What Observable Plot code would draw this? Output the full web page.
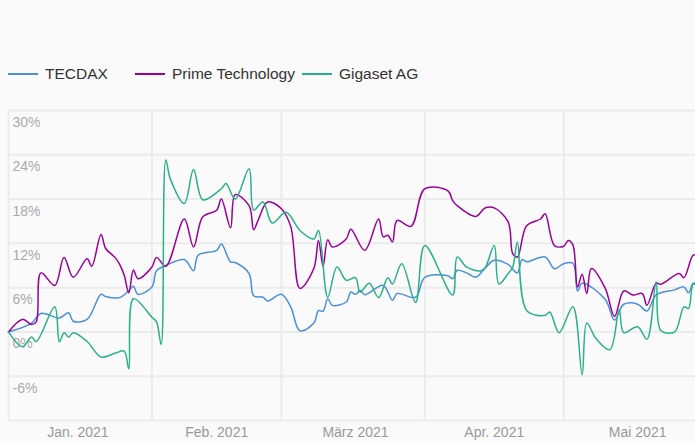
<!DOCTYPE html>
<html>
<head>
<meta charset="utf-8">
<script src="https://cdn.jsdelivr.net/npm/d3@7"></script>
<script src="https://cdn.jsdelivr.net/npm/@observablehq/plot@0.6"></script>
<style>
  html, body { margin: 0; padding: 0; background: #fafafa; }
  body { width: 695px; height: 443px; overflow: hidden; font-family: "Liberation Sans", Arial, Helvetica, sans-serif; }
  #legend { margin-top: 60px; height: 28px; display: flex; align-items: center; padding-left: 8px; font-size: 15.5px; color: #333; }
  .item { display: flex; align-items: center; flex: none; white-space: nowrap; }
  .sw { width: 30px; height: 2px; margin-right: 7px; }
  #chart svg { display: block; }
</style>
</head>
<body>
<div id="legend"></div>
<div id="chart"></div>
<script>
const seriesNames = ["TECDAX", "Prime Technology", "Gigaset AG"];
const seriesColors = ["#4a90d9", "#990099", "#2ab08a"];

const tecdaxDates = ["2021-01-01","2021-01-06","2021-01-08","2021-01-12","2021-01-14","2021-01-15","2021-01-18","2021-01-21","2021-01-22","2021-01-25","2021-01-27","2021-01-28","2021-01-29","2021-02-01","2021-02-02","2021-02-04","2021-02-08","2021-02-10","2021-02-11","2021-02-15","2021-02-16","2021-02-18","2021-02-19","2021-02-22","2021-02-23","2021-02-25","2021-02-26","2021-03-01","2021-03-03","2021-03-05","2021-03-08","2021-03-09","2021-03-10","2021-03-11","2021-03-12","2021-03-15","2021-03-16","2021-03-17","2021-03-18","2021-03-19","2021-03-23","2021-03-25","2021-03-26","2021-03-30","2021-04-01","2021-04-06","2021-04-07","2021-04-08","2021-04-10","2021-04-12","2021-04-14","2021-04-16","2021-04-19","2021-04-21","2021-04-22","2021-04-23","2021-04-27","2021-04-29","2021-05-01","2021-05-03","2021-05-04","2021-05-05","2021-05-10","2021-05-12","2021-05-14","2021-05-17","2021-05-19","2021-05-21","2021-05-25","2021-05-27","2021-05-28","2021-05-29","2021-05-30"];
const tecdaxValues = [0,1.2,2.5,1.9,2.6,1.45,1.7,5.1,4.8,4.65,5.6,6.2,5.1,6.1,8.3,9.0,9.8,8.3,10.4,11.05,11.9,9.5,9.4,7.9,4.9,4.7,4.2,5.1,3.4,0.15,1.2,2.9,2.8,4.5,3.6,4.05,5.4,5.1,5.6,5.05,6.3,4.3,5.2,4.7,7.4,7.6,7.2,8.35,8.0,7.4,8.65,9.7,9.15,8.0,9.8,9.5,10.15,8.55,9.25,9.3,5.55,6.6,4.4,1.6,3.75,3.75,2.85,5.0,5.7,6.1,5.3,6.6,6.45];

const primeDates = ["2021-01-01","2021-01-04","2021-01-06","2021-01-07","2021-01-08","2021-01-11","2021-01-13","2021-01-15","2021-01-18","2021-01-19","2021-01-21","2021-01-22","2021-01-24","2021-01-25","2021-01-26","2021-01-27","2021-01-28","2021-01-29","2021-02-01","2021-02-02","2021-02-04","2021-02-08","2021-02-10","2021-02-12","2021-02-15","2021-02-16","2021-02-18","2021-02-19","2021-02-22","2021-02-23","2021-02-24","2021-02-26","2021-03-01","2021-03-03","2021-03-05","2021-03-08","2021-03-09","2021-03-10","2021-03-11","2021-03-12","2021-03-15","2021-03-16","2021-03-19","2021-03-22","2021-03-23","2021-03-24","2021-03-25","2021-03-26","2021-03-29","2021-04-01","2021-04-06","2021-04-07","2021-04-08","2021-04-12","2021-04-14","2021-04-16","2021-04-19","2021-04-20","2021-04-21","2021-04-23","2021-04-26","2021-04-27","2021-04-29","2021-05-01","2021-05-02","2021-05-03","2021-05-04","2021-05-05","2021-05-06","2021-05-07","2021-05-10","2021-05-12","2021-05-14","2021-05-16","2021-05-18","2021-05-19","2021-05-21","2021-05-22","2021-05-26","2021-05-27","2021-05-29","2021-05-30"];
const primeValues = [0,1.7,1.0,1.35,8.0,6.3,10.1,7.4,9.9,8.9,13.2,11.3,10.1,9.2,7.7,5.3,8.4,7.2,8.8,10.1,8.9,15.3,11.5,15.6,16.5,18.0,14.1,18.6,17.1,13.85,15.2,17.6,16.7,14.3,5.9,8.6,12.4,8.9,12.5,11.5,12.6,13.9,11.05,15.3,12.9,13.1,12.2,15.1,14.3,19.4,19.1,17.8,17.1,15.65,16.8,16.8,14.9,10.6,10.15,14.4,15.3,16.0,11.7,11.6,12.4,11.8,6.1,7.8,5.2,8.6,5.9,2.1,5.55,5.0,5.2,3.6,6.6,6.45,7.9,7.35,10.4,10.4];

const gigasetDates = ["2021-01-01","2021-01-04","2021-01-06","2021-01-07","2021-01-11","2021-01-12","2021-01-13","2021-01-14","2021-01-15","2021-01-18","2021-01-21","2021-01-24","2021-01-26","2021-01-27","2021-01-28","2021-02-01","2021-02-02","2021-02-03","2021-02-04","2021-02-05","2021-02-08","2021-02-10","2021-02-12","2021-02-16","2021-02-17","2021-02-19","2021-02-22","2021-02-23","2021-02-25","2021-02-27","2021-03-02","2021-03-05","2021-03-08","2021-03-09","2021-03-11","2021-03-13","2021-03-15","2021-03-17","2021-03-18","2021-03-20","2021-03-22","2021-03-24","2021-03-25","2021-03-27","2021-03-30","2021-04-01","2021-04-07","2021-04-08","2021-04-10","2021-04-13","2021-04-14","2021-04-16","2021-04-17","2021-04-19","2021-04-20","2021-04-21","2021-04-23","2021-04-27","2021-04-28","2021-04-30","2021-05-03","2021-05-05","2021-05-06","2021-05-08","2021-05-11","2021-05-13","2021-05-14","2021-05-17","2021-05-19","2021-05-21","2021-05-22","2021-05-25","2021-05-27","2021-05-28","2021-05-29","2021-05-30"];
const gigasetValues = [0,-2.0,-0.7,-1.3,3.4,-1.35,-0.1,-0.7,-0.1,-1.3,-3.4,-2.9,-2.6,-5.0,4.5,2.0,1.35,-1.7,23.3,20.7,17.4,22.0,17.9,19.4,20.1,18.0,22.1,16.5,17.6,14.75,16.2,13.75,12.6,13.75,4.7,8.8,7.0,7.35,5.4,6.6,4.65,7.35,6.5,9.25,4.0,11.7,5.0,10.15,8.8,8.25,8.66,11.7,6.5,7.9,8.8,12.2,2.9,2.25,2.7,-0.1,3.4,-5.8,1.2,-0.9,-2.4,3.0,-0.1,0.7,-1.0,6.8,0.2,0,3.4,3.2,6.5,6.1];

const yTicks = [30, 24, 18, 12, 6, 0, -6];
const yTickLabels = ["30%", "24%", "18%", "12%", "6%", "0%", "-6%"];
const yGrid = [30, 24, 18, 12, 6, 0, -6, -12];
const xGrid = ["2021-01-01", "2021-02-01", "2021-03-01", "2021-04-01", "2021-05-01"];
const xLabelDates = ["2021-01-16", "2021-02-15", "2021-03-17", "2021-04-16", "2021-05-17"];
const xTickLabels = ["Jan. 2021", "Feb. 2021", "März 2021", "Apr. 2021", "Mai 2021"];
const legendItemWidths = [127, 167, 120];

const parse = d3.utcParse("%Y-%m-%d");
const rows = [];
[[tecdaxDates, tecdaxValues], [primeDates, primeValues], [gigasetDates, gigasetValues]].forEach(([ds, vs], k) => {
  ds.forEach((d, i) => rows.push({date: parse(d), value: vs[i], series: seriesNames[k]}));
});

const legend = document.getElementById("legend");
seriesNames.forEach((n, i) => {
  const it = document.createElement("div");
  it.className = "item";
  it.style.width = legendItemWidths[i] + "px";
  const sw = document.createElement("div");
  sw.className = "sw";
  sw.style.background = seriesColors[i];
  const t = document.createElement("span");
  t.textContent = n;
  it.appendChild(sw); it.appendChild(t);
  legend.appendChild(it);
});

const chart = Plot.plot({
  width: 695,
  height: 355,
  marginLeft: 8,
  marginRight: 0,
  marginTop: 22,
  marginBottom: 23,
  style: {background: "#fafafa", fontFamily: "'Liberation Sans', Arial, Helvetica, sans-serif", fontSize: "14px", overflow: "hidden"},
  x: {type: "utc", domain: [parse("2021-01-01"), new Date(Date.UTC(2021, 4, 29, 12))], axis: null},
  y: {domain: [-12, 30], axis: null},
  color: {domain: seriesNames, range: seriesColors},
  marks: [
    Plot.ruleY(yGrid, {stroke: "#ebebeb", strokeWidth: 2}),
    Plot.ruleX(xGrid.map(parse), {stroke: "#ebebeb", strokeWidth: 2}),
    Plot.text(yTicks, {y: d => d, text: (d, i) => yTickLabels[i], frameAnchor: "left", dx: 4, dy: 12, textAnchor: "start", fill: "#aaa", fontSize: 14}),
    Plot.text(xLabelDates.map(parse), {x: d => d, text: (d, i) => xTickLabels[i], frameAnchor: "bottom", dy: 16, fill: "#999", fontSize: 14}),
    Plot.line(rows, {x: "date", y: "value", z: "series", stroke: "series", curve: "catmull-rom", strokeWidth: 1.5})
  ]
});
document.getElementById("chart").appendChild(chart);
</script>
</body>
</html>
